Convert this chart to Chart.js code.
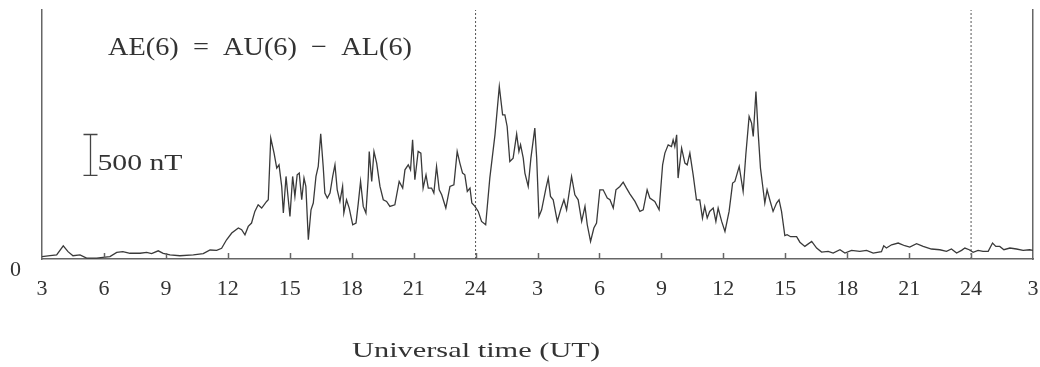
<!DOCTYPE html>
<html>
<head>
<meta charset="utf-8">
<script src="https://cdn.jsdelivr.net/npm/chart.js@4.4.1/dist/chart.umd.min.js"></script>
<style>
  html, body { margin: 0; padding: 0; background: #fff; }
  #wrap { width: 1040px; height: 367px; position: relative; }
</style>
</head>
<body>
<div id="wrap"><canvas id="aeChart"></canvas></div>
<script>
// time axis runs over two days: 03 UT day 1 -> 03 UT day 3 (hours counted from day 1 00 UT)
const HOURS = [
    3.00, 3.39, 3.71, 4.03, 4.26, 4.50, 4.84, 5.16, 5.65, 5.95,
    6.29, 6.62, 6.92, 7.26, 7.75, 8.07, 8.31, 8.63, 8.87, 9.20,
    9.68, 10.33, 10.81, 11.14, 11.46, 11.70, 11.94, 12.19, 12.51, 12.67,
    12.83, 12.99, 13.15, 13.31, 13.47, 13.64, 13.88, 13.96, 14.08, 14.24,
    14.37, 14.48, 14.61, 14.69, 14.82, 14.93, 15.01, 15.14, 15.25, 15.36,
    15.46, 15.58, 15.69, 15.78, 15.90, 16.03, 16.14, 16.27, 16.38, 16.50,
    16.62, 16.70, 16.82, 16.95, 17.08, 17.19, 17.30, 17.43, 17.56, 17.62,
    17.75, 17.88, 18.05, 18.21, 18.32, 18.43, 18.56, 18.69, 18.80, 18.85,
    18.97, 19.08, 19.21, 19.37, 19.53, 19.69, 19.85, 20.09, 20.30, 20.47,
    20.58, 20.74, 20.85, 20.95, 21.06, 21.22, 21.35, 21.46, 21.60, 21.71,
    21.87, 21.98, 22.11, 22.24, 22.36, 22.56, 22.76, 22.95, 23.11, 23.24,
    23.37, 23.48, 23.60, 23.73, 23.82, 23.97, 24.13, 24.29, 24.49, 24.69,
    24.94, 25.15, 25.31, 25.42, 25.53, 25.66, 25.82, 25.99, 26.10, 26.18,
    26.31, 26.39, 26.55, 26.68, 26.87, 26.96, 27.07, 27.20, 27.41, 27.52,
    27.63, 27.76, 27.96, 28.12, 28.28, 28.41, 28.65, 28.81, 28.97, 29.14,
    29.30, 29.41, 29.57, 29.73, 29.86, 30.02, 30.18, 30.38, 30.51, 30.67,
    30.80, 30.99, 31.15, 31.31, 31.48, 31.72, 31.96, 32.12, 32.31, 32.44,
    32.68, 32.89, 33.06, 33.17, 33.33, 33.49, 33.57, 33.65, 33.74, 33.81,
    33.98, 34.14, 34.25, 34.38, 34.54, 34.70, 34.86, 34.99, 35.10, 35.22,
    35.34, 35.51, 35.64, 35.75, 35.92, 36.08, 36.28, 36.45, 36.56, 36.77,
    36.96, 37.09, 37.25, 37.37, 37.45, 37.58, 37.69, 37.80, 37.90, 38.01,
    38.12, 38.25, 38.41, 38.58, 38.70, 38.82, 38.98, 39.09, 39.26, 39.55,
    39.71, 39.95, 40.28, 40.52, 40.76, 41.08, 41.32, 41.65, 41.89, 42.21,
    42.61, 42.94, 43.26, 43.66, 43.77, 43.90, 44.15, 44.47, 44.79, 45.03,
    45.36, 45.68, 46.08, 46.49, 46.81, 47.05, 47.30, 47.54, 47.70, 47.91,
    48.10, 48.34, 48.58, 48.83, 49.04, 49.20, 49.39, 49.59, 49.88, 50.20,
    50.52, 50.84, 51.00
];

// AE(6) index, nT
const AE_NT = [
    30, 40, 50, 160, 90, 40, 50, 10, 10, 20,
    30, 80, 90, 70, 70, 80, 65, 100, 70, 50,
    40, 50, 65, 110, 105, 130, 235, 317, 378, 357,
    296, 398, 439, 581, 662, 622, 703, 723, 1476, 1293,
    1110, 1150, 886, 561, 1008, 723, 520, 1008, 764, 1028,
    1049, 723, 988, 886, 235, 601, 683, 1008, 1130, 1529,
    1130, 805, 744, 805, 1008, 1150, 845, 703, 886, 561,
    723, 622, 418, 439, 683, 947, 642, 561, 988, 1313,
    947, 1313, 1171, 886, 723, 703, 642, 662, 947, 866,
    1089, 1150, 1089, 1455, 967, 1313, 1293, 866, 1028, 866,
    866, 805, 1130, 845, 784, 622, 886, 906, 1313, 1171,
    1049, 1028, 825, 866, 683, 642, 581, 459, 418, 988,
    1516, 2106, 1760, 1760, 1618, 1191, 1232, 1525, 1313, 1394,
    1232, 1049, 886, 1232, 1598, 1232, 520, 601, 866, 988,
    764, 723, 459, 601, 723, 601, 1008, 784, 723, 459,
    642, 418, 215, 378, 439, 845, 845, 744, 723, 622,
    845, 886, 939, 866, 793, 703, 581, 601, 845, 744,
    703, 601, 1150, 1293, 1394, 1374, 1455, 1374, 1516, 988,
    1354, 1171, 1150, 1293, 1028, 723, 723, 500, 642, 500,
    581, 622, 459, 622, 459, 337, 581, 927, 947, 1130,
    825, 1272, 1740, 1659, 1496, 2045, 1537, 1110, 906, 683,
    845, 723, 581, 683, 723, 581, 285, 296, 272, 272,
    205, 154, 215, 134, 85, 93, 73, 113, 73, 105,
    93, 105, 73, 89, 162, 134, 174, 195, 162, 146,
    187, 154, 122, 113, 93, 122, 73, 105, 134, 113,
    81, 105, 93, 93, 195, 154, 154, 113, 134, 122,
    105, 113, 105
];

const X_TICKS = [3, 6, 9, 12, 15, 18, 21, 24, 27, 30, 33, 36, 39, 42, 45, 48, 51];
const X_TICK_LABELS = ['3', '6', '9', '12', '15', '18', '21', '24', '3', '6', '9', '12', '15', '18', '21', '24', '3'];
const DAY_BREAKS = [24, 48];
const Y_MAX = 3040;

// 500 nT scale bar (hour position, base value, length)
const BAR_HOUR = 5.32;
const BAR_BASE = 1020;
const BAR_SIZE = 500;

const SERIF = "'Liberation Serif', 'Times New Roman', serif";
const INK = '#333';
const AXIS = '#666';

function fitText(ctx, txt, x, baseline, width, size) {
    ctx.font = `${size}px ${SERIF}`;
    const w = ctx.measureText(txt).width;
    ctx.save();
    ctx.translate(x, baseline);
    ctx.scale(width / w, 1);
    ctx.fillText(txt, 0, 0);
    ctx.restore();
}

const decor = {
    id: 'aeDecor',
    afterDraw(chart) {
        const { ctx, scales: { x, y } } = chart;
        ctx.save();
        // inward ticks on the time axis
        ctx.strokeStyle = AXIS;
        ctx.lineWidth = 1.5;
        X_TICKS.slice(1, -1).forEach(v => {
            const px = Math.round(x.getPixelForValue(v)) + 0.5;
            ctx.beginPath();
            ctx.moveTo(px, y.bottom);
            ctx.lineTo(px, y.bottom - 6);
            ctx.stroke();
        });

        // scale bar
        const bx = Math.round(x.getPixelForValue(BAR_HOUR)) + 0.5;
        const b0 = y.getPixelForValue(BAR_BASE);
        const b1 = y.getPixelForValue(BAR_BASE + BAR_SIZE);
        ctx.strokeStyle = '#444';
        ctx.lineWidth = 1.3;
        ctx.beginPath();
        ctx.moveTo(bx, b0); ctx.lineTo(bx, b1);
        ctx.moveTo(bx - 7, b0); ctx.lineTo(bx + 7, b0);
        ctx.moveTo(bx - 7, b1); ctx.lineTo(bx + 7, b1);
        ctx.stroke();

        ctx.fillStyle = INK;
        ctx.textBaseline = 'alphabetic';
        // zero label sits a little below the baseline
        ctx.textAlign = 'right';
        ctx.font = `22px ${SERIF}`;
        ctx.fillText('0', x.left - 21, y.getPixelForValue(0) + 17);

        ctx.textAlign = 'left';
        fitText(ctx, '500 nT', bx + 7, 169.5, 85, 23);
        fitText(ctx, 'AE(6)  =  AU(6)  \u2212  AL(6)', 108, 55, 304, 26);
        fitText(ctx, 'Universal time (UT)', 352, 357, 248, 21);
        ctx.restore();
    }
};

const series = HOURS.map((h, i) => ({ x: h, y: AE_NT[i] }));

const datasets = [{
    data: series,
    borderColor: '#3a3a3a',
    borderWidth: 1.3,
    pointRadius: 0,
    tension: 0
}];
DAY_BREAKS.forEach(d => {
    datasets.push({
        data: [{ x: d, y: 0 }, { x: d, y: Y_MAX }],
        borderColor: '#555',
        borderWidth: 1,
        borderDash: [2, 2],
        pointRadius: 0
    });
});

const hiddenGrid = { display: true, drawOnChartArea: false, drawTicks: true, color: 'rgba(0,0,0,0)' };

new Chart(document.getElementById('aeChart'), {
    type: 'line',
    data: { datasets },
    options: {
        responsive: true,
        maintainAspectRatio: false,
        animation: false,
        devicePixelRatio: 1,
        layout: { padding: { top: 10, left: 0, right: 0, bottom: 0 } },
        plugins: { legend: { display: false }, tooltip: { enabled: false } },
        scales: {
            x: {
                type: 'linear',
                min: 3,
                max: 51,
                grid: { ...hiddenGrid, tickLength: 17 },
                border: { display: true, color: AXIS, width: 1.5 },
                ticks: {
                    autoSkip: false,
                    maxRotation: 0,
                    padding: 0,
                    color: INK,
                    font: { family: SERIF, size: 22 },
                    callback: (v, i) => X_TICK_LABELS[i]
                },
                afterBuildTicks: s => { s.ticks = X_TICKS.map(v => ({ value: v })); },
                afterFit: s => { s.height = 108; }
            },
            y: {
                position: 'left',
                min: 0,
                max: Y_MAX,
                grid: { display: false, drawTicks: false },
                border: { display: true, color: AXIS, width: 1.5 },
                ticks: { display: false, padding: 0 },
                afterFit: s => { s.width = 42; }
            },
            yRight: {
                position: 'right',
                min: 0,
                max: Y_MAX,
                grid: { display: false, drawTicks: false },
                border: { display: true, color: AXIS, width: 1.5 },
                ticks: { display: false, padding: 0 },
                afterFit: s => { s.width = 7; }
            }
        }
    },
    plugins: [decor]
});
</script>
</body>
</html>
